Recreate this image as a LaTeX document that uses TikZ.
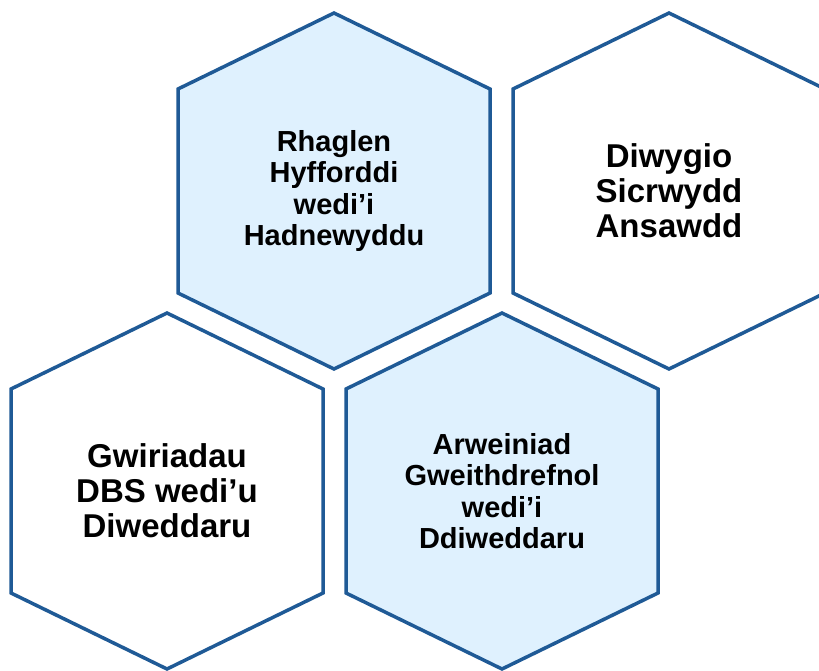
\documentclass[tikz,border=0pt]{standalone}
\usepackage{fontspec}
\setmainfont{Liberation Sans}
\usetikzlibrary{calc}
\definecolor{hexline}{RGB}{31,90,150}
\definecolor{hexfill}{RGB}{223,241,254}
\tikzset{
  hexshape/.style={draw=hexline, line width=3.5pt, line join=miter},
  hexlabel/.style={align=center, font=\bfseries, text=black, inner sep=0pt},
  smalltext/.style={hexlabel, font=\bfseries\fontsize{29}{31.5}\selectfont},
  bigtext/.style={hexlabel, font=\bfseries\fontsize{33}{35}\selectfont}
}
\newcommand{\hexat}[2]{%
  \path[hexshape, #2] ($(#1)+(0,-178)$) -- ++(156,76) -- ++(0,204) -- ++(-156,76)
    -- ++(-156,-76) -- ++(0,-204) -- cycle;}
\begin{document}
\begin{tikzpicture}[x=1pt,y=-1pt]
\useasboundingbox (0,0) rectangle (819,670);
\clip (0,0) rectangle (819,670);
\fill[white] (0,0) rectangle (819,670);
\coordinate (c1) at (334,191);
\coordinate (c2) at (669,191);
\coordinate (c3) at (167,491);
\coordinate (c4) at (502,491);
\hexat{c1}{fill=hexfill}
\hexat{c2}{fill=white}
\hexat{c3}{fill=white}
\hexat{c4}{fill=hexfill}
\node[smalltext] (t1) at (c1) {Rhaglen\\Hyfforddi\\wedi’i\\Hadnewyddu};
\node[bigtext] (t2) at (c2) {Diwygio\\Sicrwydd\\Ansawdd};
\node[bigtext] (t3) at (c3) {Gwiriadau\\DBS wedi’u\\Diweddaru};
\node[smalltext] (t4) at (c4) {Arweiniad\\Gweithdrefnol\\wedi’i\\Ddiweddaru};
\end{tikzpicture}
\end{document}
